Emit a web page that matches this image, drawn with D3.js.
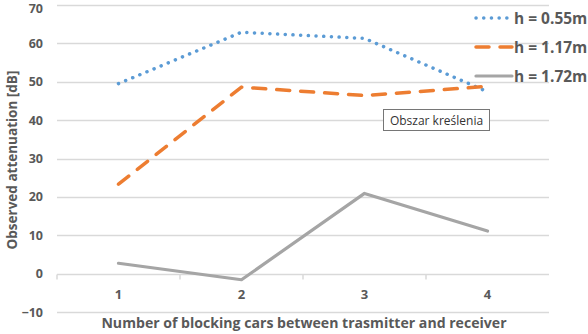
<!DOCTYPE html>
<html>
<head>
<meta charset="utf-8">
<script src="https://cdn.jsdelivr.net/npm/d3@7"></script>
<style>
  body { margin: 0; background: #fff; }
  svg text { font-family: "Open Sans", "Noto Sans", sans-serif; }
</style>
</head>
<body>
<div id="chart"></div>
<script>
const categories = ["1", "2", "3", "4"];
const h055 = [49.5, 62.9, 61.3, 47.4];
const h117 = [23.3, 48.6, 46.4, 48.8];
const h172 = [2.7, -1.6, 20.9, 11.1];
const yTicks = [-10, 0, 10, 20, 30, 40, 50, 60, 70];

const seriesList = [
  {name: "h = 0.55m", values: h055, color: "#5b9bd5", dash: "0.1,7.6", cap: "round", w: 3.5},
  {name: "h = 1.17m", values: h117, color: "#ed7d31", dash: "13,11", cap: "round", w: 3.5},
  {name: "h = 1.72m", values: h172, color: "#a5a5a5", dash: null, cap: "round", w: 3.2}
];

const W = 588, H = 334;
const margin = {top: 5, right: 39, bottom: 22, left: 57};

const svg = d3.select("#chart").append("svg")
  .attr("width", W)
  .attr("height", H);

const x = d3.scaleBand().domain(categories).range([margin.left, W - margin.right]);
const y = d3.scaleLinear().domain([-10, 70]).range([H - margin.bottom, margin.top]);

// gridlines
svg.append("g")
  .selectAll("line")
  .data(yTicks)
  .enter().append("line")
  .attr("x1", margin.left)
  .attr("x2", W - margin.right)
  .attr("y1", d => Math.round(y(d)) + 0.5)
  .attr("y2", d => Math.round(y(d)) + 0.5)
  .attr("stroke", "#d9d9d9")
  .attr("stroke-width", 1.5);

// y axis labels
const yAxis = d3.axisLeft(y).tickValues(yTicks).tickSize(0).tickPadding(14);
svg.append("g")
  .attr("transform", `translate(${margin.left},0)`)
  .call(yAxis)
  .call(g => g.select(".domain").remove())
  .selectAll("text")
  .attr("font-size", 12.5)
  .attr("font-weight", "bold")
  .attr("fill", "#595959")
  .attr("dy", d => d === 70 ? "0.62em" : "0.32em");

// x axis on zero line
const zeroY = Math.round(y(0)) + 0.5;
const xAxis = d3.axisBottom(x).tickSize(0).tickPadding(15);
const xg = svg.append("g")
  .attr("transform", `translate(0,${zeroY})`)
  .call(xAxis);
xg.select(".domain").remove();
xg.selectAll("text")
  .attr("font-size", 13)
  .attr("font-weight", "bold")
  .attr("fill", "#595959");
// category boundary ticks
svg.append("g")
  .selectAll("line")
  .data(categories)
  .enter().append("line")
  .attr("x1", d => x(d))
  .attr("x2", d => x(d))
  .attr("y1", zeroY)
  .attr("y2", zeroY + 5)
  .attr("stroke", "#d9d9d9")
  .attr("stroke-width", 1.5);

// series
const line = d3.line()
  .x((d, i) => x(categories[i]) + x.bandwidth() / 2)
  .y(d => y(d));

seriesList.forEach(s => {
  svg.append("path")
    .datum(s.values)
    .attr("d", line)
    .attr("fill", "none")
    .attr("stroke", s.color)
    .attr("stroke-width", s.w)
    .attr("stroke-linecap", s.cap)
    .attr("stroke-linejoin", "round")
    .attr("stroke-dasharray", s.dash);
});

// legend
const leg = svg.append("g").attr("transform", "translate(476,18)");
seriesList.forEach((s, i) => {
  const row = leg.append("g").attr("transform", `translate(0,${i * 29})`);
  row.append("line")
    .attr("x1", 0).attr("x2", 36)
    .attr("y1", 0).attr("y2", 0)
    .attr("stroke", s.color)
    .attr("stroke-width", s.w)
    .attr("stroke-linecap", s.cap)
    .attr("stroke-dasharray", s.dash);
  row.append("text")
    .attr("x", 38)
    .attr("y", 5.5)
    .attr("font-size", 15.5)
    .attr("font-weight", "bold")
    .attr("fill", "#595959")
    .text(s.name);
});

// "Obszar kreślenia" tooltip box
const tip = svg.append("g").attr("transform", "translate(383,109)");
tip.append("rect")
  .attr("x", 0.5).attr("y", 0.5)
  .attr("width", 106).attr("height", 21)
  .attr("fill", "#fff")
  .attr("stroke", "#767676");
tip.append("text")
  .attr("x", 53.5).attr("y", 15.5)
  .attr("text-anchor", "middle")
  .attr("font-size", 12)
  .attr("fill", "#333")
  .text("Obszar kreślenia");

// axis titles
svg.append("text")
  .attr("x", 304)
  .attr("y", 328)
  .attr("text-anchor", "middle")
  .attr("font-size", 14.1)
  .attr("font-weight", "bold")
  .attr("fill", "#595959")
  .text("Number of blocking cars between trasmitter and receiver");

svg.append("text")
  .attr("transform", `translate(17,160) rotate(-90)`)
  .attr("text-anchor", "middle")
  .attr("font-size", 13.5)
  .attr("font-weight", "bold")
  .attr("fill", "#595959")
  .text("Observed attenuation [dB]");
</script>
</body>
</html>
